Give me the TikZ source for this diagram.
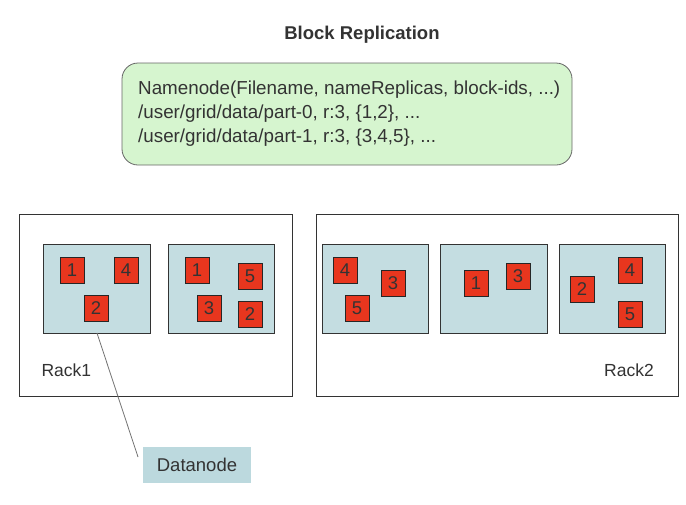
\documentclass[tikz,border=0pt]{standalone}
\usepackage{fontspec}
\setmainfont{Liberation Sans}
\definecolor{txt}{HTML}{333333}
\definecolor{greenfill}{HTML}{D6F5CF}
\definecolor{nodefill}{HTML}{C4DDE1}
\definecolor{blockred}{HTML}{E8361E}
\definecolor{dnfill}{HTML}{BCD9DE}
\begin{document}
\begin{tikzpicture}[x=1pt,y=-1pt,
  rack/.style={draw=black!80,line width=0.8pt,fill=white},
  dnode/.style={draw=black!80,line width=0.8pt,fill=nodefill},
  blk/.style={draw=black!85,line width=0.8pt,fill=blockred,minimum width=24pt,minimum height=26pt,inner sep=0pt,text=txt,font=\fontsize{18.5}{20}\selectfont},
  lbl/.style={text=txt,font=\fontsize{17.5}{20}\selectfont}]
\useasboundingbox (0,0) rectangle (686,504);
\node[font=\bfseries\fontsize{18.5}{21}\selectfont,text=txt] (title) at (362,35) {Block Replication};
\draw[draw=black!60,line width=0.8pt,fill=greenfill,rounded corners=16pt] (122,63) rectangle (572,165);
\node[anchor=north west,align=left,text=txt,font=\fontsize{18.8}{24}\selectfont,inner sep=0pt] (nn) at (138,81)
 {Namenode(Filename, nameReplicas, block-ids, ...)\\/user/grid/data/part-0, r:3, \{1,2\}, ...\\/user/grid/data/part-1, r:3, \{3,4,5\}, ...};
% racks
\draw[rack] (19,214) rectangle (292,396);
\draw[rack] (316,214) rectangle (678,396);
\node[lbl,anchor=west] (rack1) at (38,370) {Rack1};
\node[lbl] (rack2) at (629,370) {Rack2};
% datanodes
\draw[dnode] (43,244) rectangle (150,333);
\draw[dnode] (168,244) rectangle (274,333);
\draw[dnode] (322,244) rectangle (428,333);
\draw[dnode] (440,244) rectangle (547,333);
\draw[dnode] (559,244) rectangle (665,333);
% blocks rack1
\node[blk] (a1) at (72,270) {1};
\node[blk] (a4) at (126,270) {4};
\node[blk] (a2) at (96,308) {2};
\node[blk] (b1) at (197,270) {1};
\node[blk] (b5) at (250,276) {5};
\node[blk] (b3) at (209,308) {3};
\node[blk] (b2) at (250,314) {2};
% blocks rack2
\node[blk] (c4) at (345,270) {4};
\node[blk] (c3) at (393,283) {3};
\node[blk] (c5) at (357,308) {5};
\node[blk] (d1) at (476,283) {1};
\node[blk] (d3) at (518,276) {3};
\node[blk] (e2) at (582,289) {2};
\node[blk] (e4) at (630,270) {4};
\node[blk] (e5) at (630,314) {5};
% datanode callout
\node[fill=dnfill,minimum width=108pt,minimum height=36pt,inner sep=0pt,lbl,font=\fontsize{18.5}{21}\selectfont] (dn) at (197,465) {Datanode};
\coordinate (src) at (97,333);
\coordinate (dst) at (138,457);
\draw[draw=black!55,line width=0.8pt] (src) -- (dst);
\end{tikzpicture}
\end{document}
